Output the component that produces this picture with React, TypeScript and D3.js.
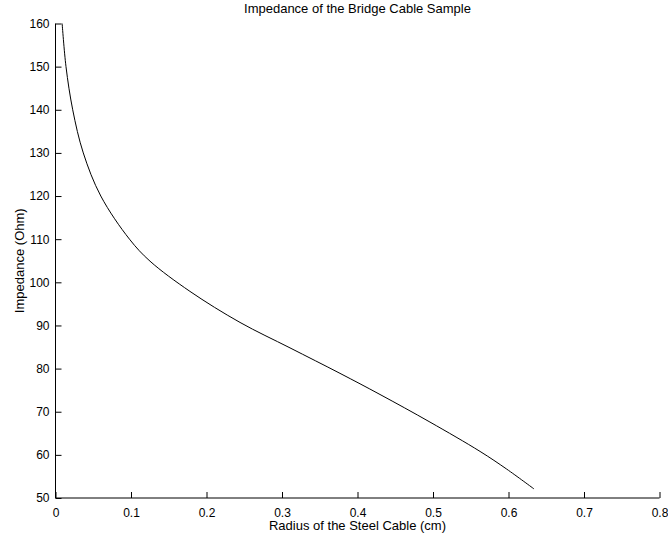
import React, { useRef, useEffect } from 'react';
import * as d3 from 'd3';

// Radius of the steel cable (cm) and the measured impedance (Ohm)
const radius = [0.0088, 0.0139, 0.0228, 0.0368, 0.06, 0.098, 0.1252, 0.1781, 0.2444, 0.3106, 0.3768, 0.4298, 0.496, 0.5623, 0.5976, 0.6338];
const impedance = [160, 150, 140, 130, 120, 110, 104.9, 97.9, 90.7, 84.8, 78.9, 74.0, 67.6, 60.8, 56.7, 52.1];

const xTicks = [0, 0.1, 0.2, 0.3, 0.4, 0.5, 0.6, 0.7, 0.8];
const yTicks = [50, 60, 70, 80, 90, 100, 110, 120, 130, 140, 150, 160];

const title = 'Impedance of the Bridge Cable Sample';
const xLabel = 'Radius of the Steel Cable (cm)';
const yLabel = 'Impedance (Ohm)';

const width = 668;
const height = 537;
const font = '"Liberation Sans", Arial, Helvetica, sans-serif';

const App = () => {
  const svgRef = useRef<SVGSVGElement>(null);

  useEffect(() => {
    const left = 55.5, right = 659.5, top = 23.5, bottom = 498;
    const points = radius.map((r, i) => ({ r, z: impedance[i] }));

    // Scales
    const x = d3.scaleLinear().domain([0, 0.8]).range([left, right]);
    const y = d3.scaleLinear().domain([50, 160]).range([bottom, top]);

    const svg = d3.select(svgRef.current)
      .attr('width', width)
      .attr('height', height)
      .html('');

    // Axes (ticks pointing inward, no box)
    const xAxis = svg.append('g')
      .attr('transform', `translate(0,${bottom})`)
      .call(d3.axisBottom(x).tickValues(xTicks).tickSize(-6).tickPadding(10)
        .tickFormat(d => (+d === 0 ? '0' : d3.format('.1f')(+d))));
    const yAxis = svg.append('g')
      .attr('transform', `translate(${left},0)`)
      .call(d3.axisLeft(y).tickValues(yTicks).tickSize(-6).tickPadding(6));

    [xAxis, yAxis].forEach(g => {
      g.select('.domain').attr('stroke', '#000').attr('d',
        g === xAxis ? `M${left},0H${right}` : `M0,${bottom}V${top}`);
      g.selectAll('.tick line').attr('stroke', '#000');
      g.selectAll('.tick text')
        .attr('fill', '#000')
        .style('font-family', font)
        .style('font-size', '12px');
    });

    // Curve
    const line = d3.line<{ r: number; z: number }>()
      .x(d => x(d.r))
      .y(d => y(d.z))
      .curve(d3.curveCatmullRom.alpha(0.5));
    svg.append('path')
      .datum(points)
      .attr('fill', 'none')
      .attr('stroke', '#000')
      .attr('stroke-width', 1)
      .attr('d', line);

    // Labels
    const cx = (left + right) / 2;
    svg.append('text')
      .attr('x', cx).attr('y', 13)
      .attr('text-anchor', 'middle')
      .style('font-family', font).style('font-size', '13px')
      .text(title);
    svg.append('text')
      .attr('x', cx).attr('y', 530)
      .attr('text-anchor', 'middle')
      .style('font-family', font).style('font-size', '13px')
      .text(xLabel);
    svg.append('text')
      .attr('transform', `translate(24,${(top + bottom) / 2}) rotate(-90)`)
      .attr('text-anchor', 'middle')
      .style('font-family', font).style('font-size', '13px')
      .text(yLabel);
  }, []);

  return <svg ref={svgRef} style={{ position: 'absolute', left: 0, top: 0, background: '#fff' }} />;
};

export default App;
